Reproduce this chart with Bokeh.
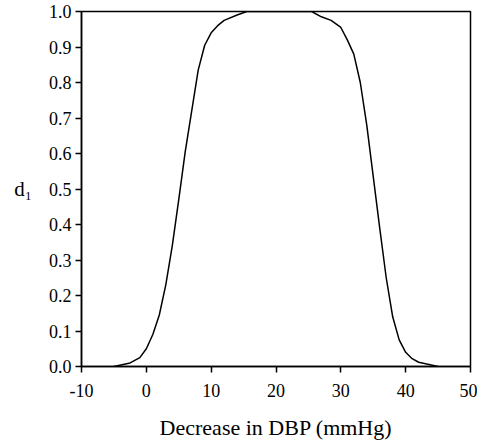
from bokeh.plotting import figure
from bokeh.models import FixedTicker, Range1d
from bokeh.embed import file_html
from bokeh.resources import INLINE

# Data
dbp_decrease = [-5, -2.5, -1, 0, 1, 2, 3, 4, 5, 6, 7, 8, 9, 10, 11, 12, 14, 15.5,
                25.5, 27, 28.5, 30, 31, 32, 33, 34, 35, 36, 37, 38, 39, 40, 41, 42, 45]
d1_values = [0.0, 0.01, 0.025, 0.05, 0.09, 0.145, 0.23, 0.34, 0.47, 0.605, 0.72, 0.835, 0.905, 0.94, 0.96, 0.975, 0.99, 1.0,
             1.0, 0.985, 0.975, 0.955, 0.92, 0.88, 0.80, 0.68, 0.535, 0.39, 0.25, 0.14, 0.075, 0.04, 0.022, 0.012, 0.0]

x_ticks = [-10, 0, 10, 20, 30, 40, 50]
x_tick_labels = ["-10", "0", "10", "20", "30", "40", "50"]
y_ticks = [0.0, 0.1, 0.2, 0.3, 0.4, 0.5, 0.6, 0.7, 0.8, 0.9, 1.0]
y_tick_labels = ["0.0", "0.1", "0.2", "0.3", "0.4", "0.5", "0.6", "0.7", "0.8", "0.9", "1.0"]

FONT = "'Liberation Serif', 'Times New Roman', serif"

p = figure(width=477, height=444, output_backend="svg", toolbar_location=None,
           x_range=Range1d(-10, 50), y_range=Range1d(0, 1.0),
           min_border_left=81, min_border_right=7, min_border_top=11, min_border_bottom=78)

p.line(dbp_decrease, d1_values, line_color="black", line_width=1.5)

p.grid.visible = False
p.outline_line_color = "black"
p.outline_line_width = 1.5
p.background_fill_color = "white"
p.border_fill_color = "white"

for ax in (p.xaxis[0], p.yaxis[0]):
    ax.axis_line_color = "black"
    ax.axis_line_width = 1.5
    ax.major_tick_line_color = "black"
    ax.major_tick_line_width = 1.5
    ax.major_tick_in = 0
    ax.major_tick_out = 6
    ax.minor_tick_line_color = None
    ax.major_label_text_font = FONT
    ax.major_label_text_font_size = "18px"
    ax.major_label_text_color = "black"
    ax.axis_label_text_font = FONT
    ax.axis_label_text_font_style = "normal"
    ax.axis_label_text_color = "black"

p.xaxis.ticker = FixedTicker(ticks=x_ticks)
p.yaxis.ticker = FixedTicker(ticks=y_ticks)
p.xaxis.major_label_overrides = {t: l for t, l in zip(x_ticks, x_tick_labels)}
p.yaxis.major_label_overrides = {t: l for t, l in zip(y_ticks, y_tick_labels)}
p.xaxis.major_label_standoff = 11
p.yaxis.major_label_standoff = 4

p.xaxis.axis_label = "Decrease in DBP (mmHg)"
p.xaxis.axis_label_text_font_size = "22px"
p.xaxis.axis_label_standoff = 15

p.yaxis.axis_label = "d₁"
p.yaxis.axis_label_text_font_size = "21px"
p.yaxis.axis_label_orientation = "horizontal"
p.yaxis.axis_label_standoff = 14

open("out.html", "w").write(file_html(p, INLINE))
